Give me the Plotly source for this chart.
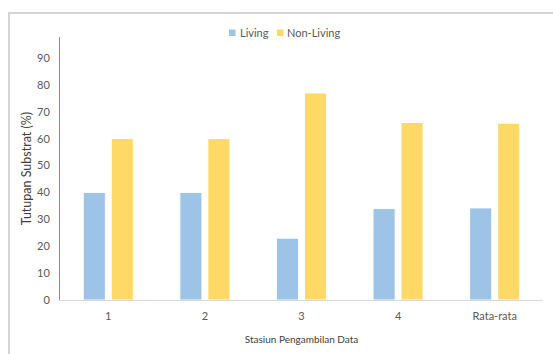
import plotly.graph_objects as go

# Substrate cover per sampling station (%)
stations = ["1", "2", "3", "4", "Rata-rata"]
living = [40, 40, 23, 34, 34.25]
non_living = [60, 60, 77, 66, 65.75]
y_ticks = [0, 10, 20, 30, 40, 50, 60, 70, 80, 90]

FONT = "Lato, 'Open Sans', sans-serif"
GRAY_TEXT = "#595959"
BLUE = "#9DC3E6"
YELLOW = "#FFD966"

fig = go.Figure()
fig.add_trace(go.Bar(
    name="Living", x=stations, y=living,
    marker=dict(color=BLUE, line=dict(color="#FFFFFF", width=1)),
))
fig.add_trace(go.Bar(
    name="Non-Living", x=stations, y=non_living,
    marker=dict(color=YELLOW, line=dict(color="#FFFFFF", width=1)),
))

W, H = 553, 354
ML, MR, MT, MB = 60, 10, 37, 54
pw, ph = W - ML - MR, H - MT - MB


def px_x(px):
    return (px - ML) / pw


def px_y(py):
    return (H - MB - py) / ph


# compact legend: small square swatches followed by labels
legend_items = [("Living", BLUE, 229, 238), ("Non-Living", YELLOW, 277, 285)]
shapes = [
    # frame lines around the chart area
    dict(type="line", xref="paper", yref="paper",
         x0=px_x(8), x1=px_x(553), y0=px_y(13), y1=px_y(13),
         line=dict(color="#D4D4D4", width=2)),
    dict(type="line", xref="paper", yref="paper",
         x0=px_x(9), x1=px_x(9), y0=px_y(13), y1=px_y(354),
         line=dict(color="#D4D4D4", width=2)),
]
annotations = []
for label, color, sx, tx in legend_items:
    shapes.append(dict(type="rect", xref="paper", yref="paper",
                       x0=px_x(sx), x1=px_x(sx + 6.5),
                       y0=px_y(29.5), y1=px_y(36),
                       fillcolor=color, line=dict(width=0)))
    annotations.append(dict(text=label, xref="paper", yref="paper",
                            x=px_x(tx), y=px_y(32.5),
                            xanchor="left", yanchor="middle",
                            showarrow=False,
                            font=dict(size=11, color=GRAY_TEXT)))

fig.update_layout(
    width=W, height=H,
    margin=dict(l=ML, r=MR, t=MT, b=MB),
    paper_bgcolor="white", plot_bgcolor="white",
    barmode="group", bargap=0.42, bargroupgap=0.21,
    font=dict(family=FONT, color=GRAY_TEXT, size=11),
    showlegend=False,
    xaxis=dict(
        showline=True, linecolor="#D9D9D9", linewidth=1,
        ticks="", showgrid=False,
        tickfont=dict(size=11, color=GRAY_TEXT),
        ticklabelstandoff=6,
        title=dict(text="Stasiun Pengambilan Data",
                   font=dict(size=10, color="#404040"), standoff=14),
    ),
    yaxis=dict(
        range=[0, 97.8], tickvals=y_ticks,
        showline=True, linecolor="#8C8C8C", linewidth=1,
        ticks="", showgrid=False, zeroline=False,
        tickfont=dict(size=11, color=GRAY_TEXT),
        ticklabelstandoff=7,
        title=dict(text="Tutupan Substrat (%)",
                   font=dict(size=12.5, color="#404040"), standoff=2),
    ),
    shapes=shapes,
    annotations=annotations,
)

fig.write_html("out.html")
